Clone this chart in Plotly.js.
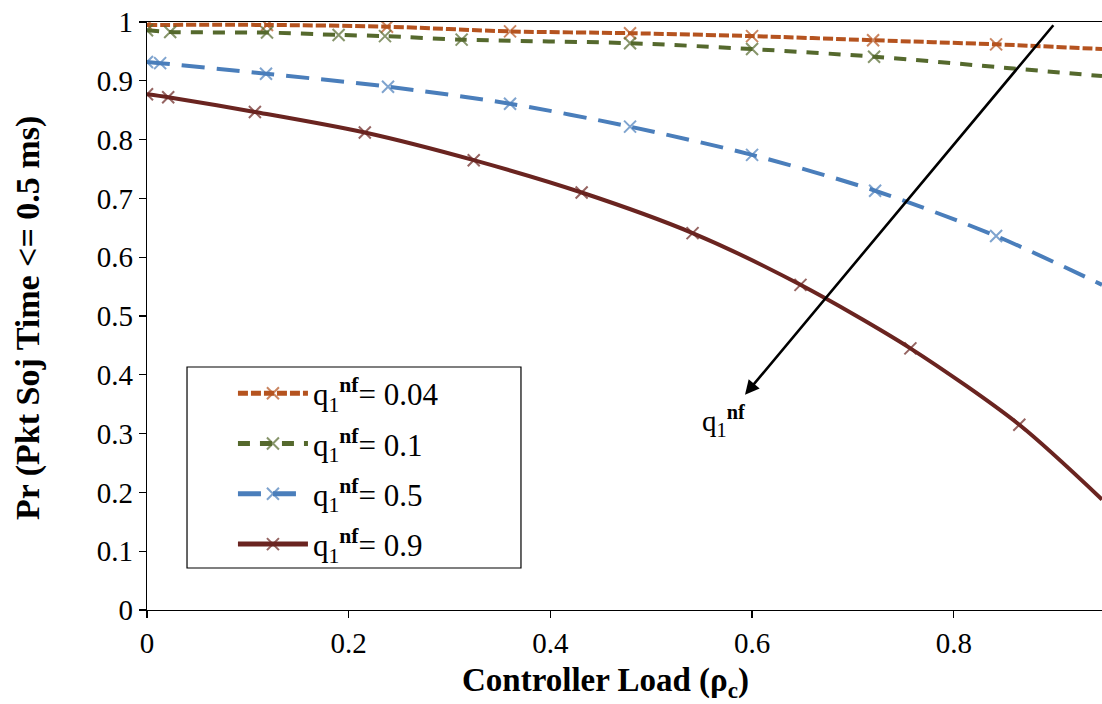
<!DOCTYPE html>
<html>
<head>
<meta charset="utf-8">
<script src="https://cdn.plot.ly/plotly-3.0.1.min.js"></script>
<style>
html,body{margin:0;padding:0;background:#ffffff;}
#chart{width:1102px;height:704px;}
</style>
</head>
<body>
<div id="chart"></div>
<script>
// ---- data ----
const seriesLabels = [
  'q<sub>1</sub><sup><b>nf</b></sup>= 0.04',
  'q<sub>1</sub><sup><b>nf</b></sup>= 0.1',
  'q<sub>1</sub><sup><b>nf</b></sup>= 0.5',
  'q<sub>1</sub><sup><b>nf</b></sup>= 0.9'
];

// q1nf = 0.04
const loadQ004 = [0, 0.119, 0.238, 0.36, 0.479, 0.6, 0.72, 0.842, 0.947];
const probQ004 = [0.995, 0.995, 0.992, 0.984, 0.981, 0.976, 0.969, 0.962, 0.954];
const markQ004 = [1, 1, 1, 1, 1, 1, 1, 1, 0];

// q1nf = 0.1
const loadQ01 = [0, 0.023, 0.119, 0.19, 0.236, 0.312, 0.479, 0.6, 0.721, 0.859, 0.947];
const probQ01 = [0.986, 0.983, 0.982, 0.978, 0.976, 0.970, 0.964, 0.954, 0.941, 0.921, 0.908];
const markQ01 = [1, 1, 1, 1, 1, 1, 1, 1, 1, 0, 0];

// q1nf = 0.5
const loadQ05 = [0, 0.013, 0.118, 0.239, 0.36, 0.479, 0.6, 0.722, 0.842, 0.947];
const probQ05 = [0.932, 0.930, 0.912, 0.890, 0.861, 0.822, 0.774, 0.713, 0.636, 0.553];
const markQ05 = [1, 1, 1, 1, 1, 1, 1, 1, 1, 0];

// q1nf = 0.9
const loadQ09 = [0, 0.021, 0.107, 0.216, 0.324, 0.431, 0.541, 0.648, 0.757, 0.865, 0.947];
const probQ09 = [0.877, 0.872, 0.847, 0.812, 0.765, 0.710, 0.641, 0.553, 0.445, 0.315, 0.188];
const markQ09 = [1, 1, 1, 1, 1, 1, 1, 1, 1, 1, 0];

const yTickVals = [0, 0.1, 0.2, 0.3, 0.4, 0.5, 0.6, 0.7, 0.8, 0.9, 1];
const yTickText = ['0', '0.1', '0.2', '0.3', '0.4', '0.5', '0.6', '0.7', '0.8', '0.9', '1'];
const xTickVals = [0, 0.2, 0.4, 0.6, 0.8];
const xTickText = ['0', '0.2', '0.4', '0.6', '0.8'];

const xTitle = '<b>Controller Load (ρ<sub>c</sub>)</b>';
const yTitle = '<b>Pr (Pkt Soj Time &lt;= 0.5 ms)</b>';
const arrowLabel = 'q<sub>1</sub><sup><b>nf</b></sup>';

// ---- styling ----
const FONT = "'Liberation Serif', 'DejaVu Serif', serif";
const styles = [
  {color: '#B5531F', dash: '10px,3px'},
  {color: '#55692D', dash: '12px,10px'},
  {color: '#4A7EBB', dash: '23px,12px'},
  {color: '#6A2420', dash: 'solid'}
];
const xs = [loadQ004, loadQ01, loadQ05, loadQ09];
const ys = [probQ004, probQ01, probQ05, probQ09];
const ms = [markQ004, markQ01, markQ05, markQ09];

const traces = xs.map((x, i) => ({
  type: 'scatter',
  mode: 'lines+markers',
  x: x,
  y: ys[i],
  name: seriesLabels[i],
  legendgroup: 'g' + i,
  line: {color: styles[i].color, width: 4, dash: styles[i].dash, shape: 'spline', smoothing: 0.8},
  marker: {
    symbol: 'x-thin',
    size: ms[i].map(m => m ? 12 : 0),
    color: styles[i].color,
    line: {color: styles[i].color, width: 2}
  },
  hoverinfo: 'x+y'
}));

const layout = {
  width: 1102,
  height: 704,
  margin: {l: 147, r: 0, t: 22, b: 94},
  paper_bgcolor: '#ffffff',
  plot_bgcolor: '#ffffff',
  font: {family: FONT, color: '#000000', size: 28},
  showlegend: true,
  legend: {
    x: 0.09, y: 0.414, xanchor: 'left', yanchor: 'top',
    bgcolor: 'rgba(0,0,0,0)', borderwidth: 0,
    font: {family: FONT, size: 31, color: '#000000'},
    itemsizing: 'constant',
    itemwidth: 70,
    tracegroupgap: 7
  },
  xaxis: {
    range: [0, 0.947],
    tickmode: 'array', tickvals: xTickVals, ticktext: xTickText,
    ticks: 'outside', ticklen: 7, tickwidth: 1.3, tickcolor: '#000',
    showline: true, linecolor: '#000', linewidth: 1.3, mirror: true,
    showgrid: false, zeroline: false,
    tickfont: {family: FONT, size: 29, color: '#000'}
  },
  yaxis: {
    range: [0, 1],
    tickmode: 'array', tickvals: yTickVals, ticktext: yTickText,
    ticks: 'outside', ticklen: 7, tickwidth: 1.3, tickcolor: '#000',
    showline: true, linecolor: '#000', linewidth: 1.3,
    showgrid: false, zeroline: false,
    tickfont: {family: FONT, size: 29, color: '#000'}
  },
  shapes: [{
    type: 'rect', xref: 'paper', yref: 'paper',
    x0: 0.0419, x1: 0.3916, y0: 0.0714, y1: 0.4133,
    line: {color: '#000', width: 1.2}, fillcolor: 'rgba(0,0,0,0)'
  }],
  annotations: [
    {
      xref: 'paper', yref: 'paper', x: 0.4796, y: -0.1599,
      xanchor: 'center', yanchor: 'bottom', borderpad: 0,
      text: xTitle, showarrow: false,
      font: {family: FONT, size: 33, color: '#000'}
    },
    {
      xref: 'paper', yref: 'paper', x: -0.1246, y: 0.4966,
      xanchor: 'center', yanchor: 'middle', textangle: -90,
      text: yTitle, showarrow: false,
      font: {family: FONT, size: 34, color: '#000'}
    },
    {
      xref: 'x', yref: 'y', axref: 'x', ayref: 'y',
      x: 0.593, y: 0.366, ax: 0.900, ay: 0.997,
      text: '', showarrow: true, arrowhead: 2, arrowsize: 1.1, arrowwidth: 2.6, arrowcolor: '#000'
    },
    {
      xref: 'x', yref: 'y',
      x: 0.572, y: 0.322,
      text: arrowLabel, showarrow: false,
      font: {family: FONT, size: 29, color: '#000'}
    }
  ]
};

Plotly.newPlot('chart', traces, layout, {staticPlot: true, displayModeBar: false});
</script>
</body>
</html>
